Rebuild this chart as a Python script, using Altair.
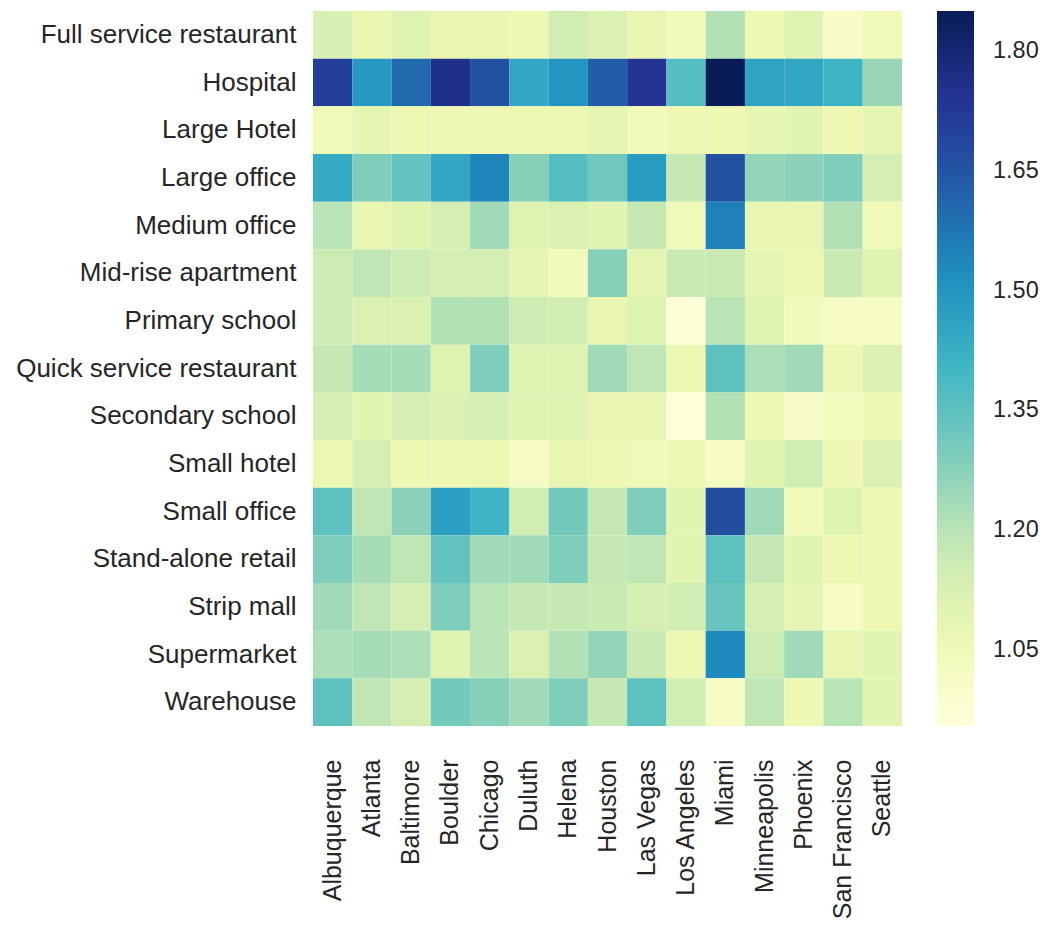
import altair as alt
import pandas as pd

cities = ["Albuquerque", "Atlanta", "Baltimore", "Boulder", "Chicago", "Duluth", "Helena",
          "Houston", "Las Vegas", "Los Angeles", "Miami", "Minneapolis", "Phoenix",
          "San Francisco", "Seattle"]

buildings = ["Full service restaurant", "Hospital", "Large Hotel", "Large office", "Medium office",
             "Mid-rise apartment", "Primary school", "Quick service restaurant", "Secondary school",
             "Small hotel", "Small office", "Stand-alone retail", "Strip mall", "Supermarket",
             "Warehouse"]

full_service_restaurant = [1.13, 1.08, 1.11, 1.08, 1.08, 1.06, 1.15, 1.12, 1.08, 1.04, 1.21, 1.06, 1.11, 1.00, 1.05]
hospital = [1.71, 1.49, 1.60, 1.76, 1.66, 1.45, 1.50, 1.63, 1.74, 1.37, 1.85, 1.46, 1.45, 1.41, 1.25]
large_hotel = [1.05, 1.09, 1.06, 1.06, 1.06, 1.07, 1.07, 1.09, 1.04, 1.06, 1.06, 1.09, 1.10, 1.06, 1.09]
large_office = [1.44, 1.29, 1.34, 1.45, 1.54, 1.28, 1.37, 1.32, 1.48, 1.18, 1.66, 1.26, 1.27, 1.29, 1.14]
medium_office = [1.20, 1.08, 1.10, 1.14, 1.24, 1.11, 1.12, 1.10, 1.18, 1.05, 1.55, 1.08, 1.08, 1.21, 1.05]
mid_rise_apartment = [1.16, 1.19, 1.16, 1.14, 1.14, 1.09, 1.04, 1.28, 1.09, 1.17, 1.17, 1.09, 1.07, 1.17, 1.11]
primary_school = [1.16, 1.12, 1.12, 1.21, 1.21, 1.16, 1.15, 1.08, 1.11, 0.96, 1.20, 1.11, 1.04, 1.02, 1.02]
quick_service_restaurant = [1.18, 1.23, 1.23, 1.11, 1.29, 1.11, 1.11, 1.24, 1.19, 1.07, 1.35, 1.22, 1.24, 1.07, 1.12]
secondary_school = [1.14, 1.10, 1.14, 1.12, 1.14, 1.11, 1.11, 1.08, 1.08, 0.955, 1.21, 1.06, 1.00, 1.03, 1.06]
small_hotel = [1.07, 1.14, 1.06, 1.06, 1.07, 1.02, 1.08, 1.07, 1.05, 1.07, 1.02, 1.10, 1.15, 1.06, 1.12]
small_office = [1.35, 1.19, 1.27, 1.47, 1.41, 1.15, 1.31, 1.18, 1.29, 1.10, 1.67, 1.24, 1.04, 1.11, 1.06]
stand_alone_retail = [1.29, 1.23, 1.19, 1.34, 1.24, 1.24, 1.29, 1.18, 1.19, 1.10, 1.35, 1.18, 1.10, 1.06, 1.06]
strip_mall = [1.24, 1.19, 1.14, 1.29, 1.20, 1.18, 1.18, 1.17, 1.14, 1.15, 1.33, 1.14, 1.09, 1.02, 1.06]
supermarket = [1.22, 1.23, 1.22, 1.11, 1.20, 1.12, 1.21, 1.26, 1.17, 1.07, 1.53, 1.16, 1.24, 1.08, 1.10]
warehouse = [1.35, 1.19, 1.14, 1.31, 1.28, 1.24, 1.29, 1.18, 1.35, 1.15, 1.02, 1.19, 1.06, 1.20, 1.10]

rows = [full_service_restaurant, hospital, large_hotel, large_office, medium_office,
        mid_rise_apartment, primary_school, quick_service_restaurant, secondary_school,
        small_hotel, small_office, stand_alone_retail, strip_mall, supermarket, warehouse]

colorbar_ticks = [1.05, 1.20, 1.35, 1.50, 1.65, 1.80]
vmin, vmax = 0.955, 1.85

ylgnbu = ["#ffffd9", "#edf8b1", "#c7e9b4", "#7fcdbb", "#41b6c4",
          "#1d91c0", "#225ea8", "#253494", "#081d58"]
stops = [vmin + (vmax - vmin) * k / 8 for k in range(9)]

records = []
for b, row in zip(buildings, rows):
    for c, v in zip(cities, row):
        records.append({"building": b, "city": c, "value": v})
df = pd.DataFrame(records)

FONT = "Liberation Sans"
TXT = "#262626"

chart = alt.Chart(df).mark_rect(strokeWidth=0).encode(
    x=alt.X("city:N", sort=cities,
            axis=alt.Axis(title=None, labelAngle=-90, labelFontSize=25, labelFont=FONT,
                          labelColor=TXT, labelPadding=33, ticks=False, domain=False,
                          grid=False, labelOverlap=False, labelLimit=0)),
    y=alt.Y("building:N", sort=buildings,
            axis=alt.Axis(title=None, labelFontSize=26, labelFont=FONT, labelColor=TXT,
                          labelPadding=17, ticks=False, domain=False, grid=False,
                          labelOverlap=False, labelLimit=0)),
    color=alt.Color("value:Q",
                    scale=alt.Scale(domain=stops, range=ylgnbu, interpolate="rgb"),
                    legend=alt.Legend(title=None, orient="none", legendX=624, legendY=0,
                                      direction="vertical", gradientLength=715,
                                      gradientThickness=37, gradientStrokeWidth=0,
                                      values=colorbar_ticks, format=".2f",
                                      labelFontSize=23.5, labelFont=FONT, labelColor=TXT,
                                      labelOffset=19, labelOverlap=False, labelLimit=0)),
).properties(
    width=589, height=715,
    autosize=alt.AutoSizeParams(type="none"),
    padding={"left": 305, "top": 3, "right": 138, "bottom": 194},
).configure_view(stroke=None).configure_scale(bandPaddingInner=0, bandPaddingOuter=0)

chart.save("out.html", embed_options={"renderer": "svg", "actions": False})
